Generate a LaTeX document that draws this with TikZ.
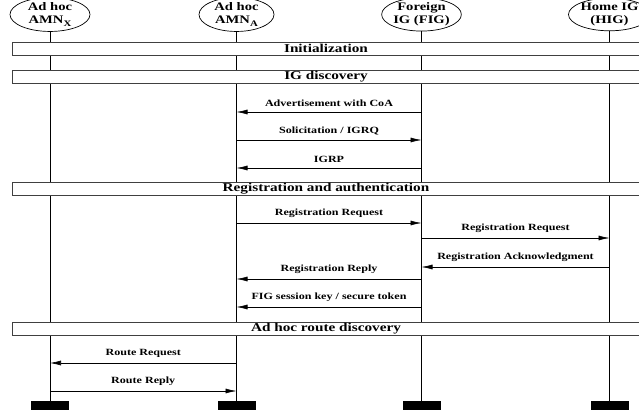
\documentclass[tikz,border=0pt]{standalone}
\usepackage{fontspec}
\setmainfont{Liberation Serif}[FakeStretch=1.27]
\usetikzlibrary{arrows.meta, positioning, shapes.geometric}

\begin{document}
\begin{tikzpicture}[x=1pt, y=-1pt,
  entity/.style={ellipse, draw, line width=0.7pt, minimum width=77pt, minimum height=28pt,
                 inner sep=0pt, align=center, font=\fontsize{11.5}{13}\selectfont\bfseries},
  lifeline/.style={line width=0.8pt},
  phase/.style={draw=black!75, line width=0.7pt, fill=white, minimum width=628pt,
                minimum height=13pt, inner sep=0pt, font=\fontsize{12}{12}\selectfont\bfseries},
  msg/.style={-{Latex[length=11pt,width=5pt]}, line width=0.6pt},
  lbl/.style={above=4pt, inner sep=1pt, font=\fontsize{9.5}{10}\selectfont\bfseries},
  foot/.style={fill=black, minimum width=38pt, minimum height=9pt, inner sep=0pt}]

  \useasboundingbox (0,0) rectangle (639,414);

  % ---------- Entities ----------
  \node[entity, minimum width=80pt] (amnx) at (50,14.5) {Ad hoc\\AMN\raisebox{-3pt}{\fontsize{8.5}{8.5}\selectfont X}};
  \node[entity, minimum width=75pt] (amna) at (236.5,14.5) {Ad hoc\\AMN\raisebox{-3pt}{\fontsize{8.5}{8.5}\selectfont A}};
  \node[entity] (fig) at (421.5,14.5) {Foreign\\IG (FIG)};
  \node[entity] (hig) at (609.5,14.5) {Home IG\\(HIG)};

  % ---------- Lifelines ----------
  \foreach \n in {amnx, amna, fig, hig}{
    \node[foot] (\n-end) at (\n |- 0,405.5) {};
    \draw[lifeline] (\n) -- (\n-end);
  }

  % ---------- Phases ----------
  \foreach \y/\t/\n in {48.5/Initialization/init, 76.5/IG discovery/igd,
                        189/Registration and authentication/reg, 329/Ad hoc route discovery/route}
    \node[phase] (\n) at (326,\y) {\t};

  % ---------- Messages ----------
  \foreach \y/\a/\b/\t in {112/fig/amna/Advertisement with CoA,
                           140/amna/fig/{Solicitation / IGRQ},
                           168/fig/amna/IGRP,
                           223/amna/fig/Registration Request,
                           238/fig/hig/Registration Request,
                           267/hig/fig/Registration Acknowledgment,
                           279/fig/amna/Registration Reply,
                           307/fig/amna/{FIG session key / secure token},
                           363/amna/amnx/Route Request,
                           391/amnx/amna/Route Reply}
    \draw[msg] (\a |- 0,\y) -- node[lbl] {\t} (\b |- 0,\y);
\end{tikzpicture}
\end{document}
